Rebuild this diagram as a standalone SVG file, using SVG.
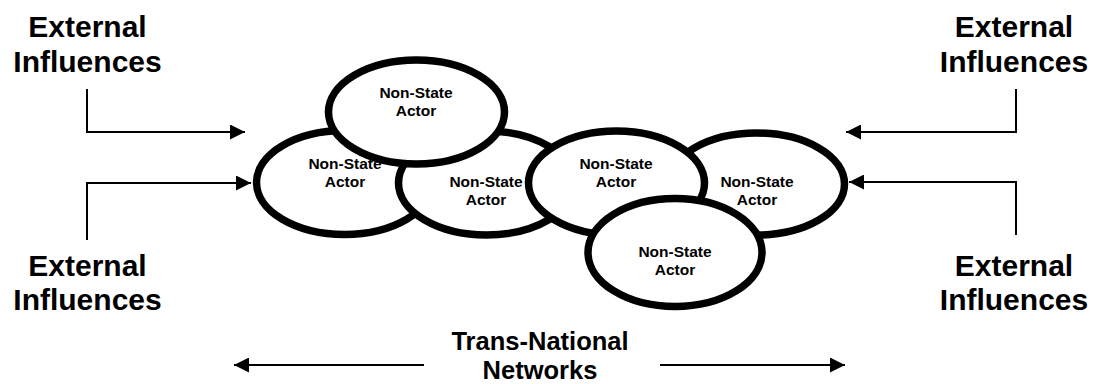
<svg xmlns="http://www.w3.org/2000/svg" width="1096" height="384" viewBox="0 0 1096 384">
  <defs>
    <marker id="ah" markerUnits="userSpaceOnUse" markerWidth="15" markerHeight="15" refX="15" refY="7.5" orient="auto">
      <path d="M0,0 L15,7.5 L0,15 Z" fill="#000"/>
    </marker>
    <style>
      .actor ellipse { fill: #fff; stroke: #000; stroke-width: 7.5; }
      .actor text { font-family: "Liberation Sans", Arial, sans-serif; font-weight: bold; font-size: 15.5px; text-anchor: middle; fill: #000; }
      .label { font-family: "Liberation Sans", Arial, sans-serif; font-weight: bold; font-size: 30px; text-anchor: middle; fill: #000; }
      .label.net { font-size: 25.5px; }
      .conn path { fill: none; stroke: #000; stroke-width: 2; marker-end: url(#ah); }
    </style>
  </defs>

  <rect width="1096" height="384" fill="#fff"/>

  <!-- side and bottom labels -->
  <g id="ext-top-left">
    <text class="label" x="87.5" y="37">External</text>
    <text class="label" x="87.5" y="72">Influences</text>
  </g>
  <g id="ext-bottom-left">
    <text class="label" x="87.5" y="276">External</text>
    <text class="label" x="87.5" y="310">Influences</text>
  </g>
  <g id="ext-top-right">
    <text class="label" x="1014" y="37">External</text>
    <text class="label" x="1014" y="72">Influences</text>
  </g>
  <g id="ext-bottom-right">
    <text class="label" x="1014" y="276">External</text>
    <text class="label" x="1014" y="310">Influences</text>
  </g>
  <g id="networks">
    <text class="label net" x="540" y="350">Trans-National</text>
    <text class="label net" x="540" y="378.5">Networks</text>
  </g>

  <!-- actor cluster; order sets the overlaps -->
  <g id="actor-left" class="actor">
    <ellipse cx="344.5" cy="182.5" rx="88" ry="52"/>
    <text x="345" y="168.5">Non-State</text>
    <text x="345" y="186.5">Actor</text>
  </g>
  <g id="actor-middle" class="actor">
    <ellipse cx="486.5" cy="183" rx="88" ry="52"/>
    <text x="486" y="186.5">Non-State</text>
    <text x="486" y="205">Actor</text>
  </g>
  <g id="actor-top" class="actor">
    <ellipse cx="416.5" cy="112" rx="88" ry="52"/>
    <text x="416" y="97.5">Non-State</text>
    <text x="416" y="116">Actor</text>
  </g>
  <g id="actor-right" class="actor">
    <ellipse cx="756.5" cy="184" rx="88" ry="51"/>
    <text x="757" y="186.5">Non-State</text>
    <text x="757" y="205">Actor</text>
  </g>
  <g id="actor-center-right" class="actor">
    <ellipse cx="616.5" cy="183" rx="88" ry="52"/>
    <text x="616" y="168.5">Non-State</text>
    <text x="616" y="186.5">Actor</text>
  </g>
  <g id="actor-bottom" class="actor">
    <ellipse cx="675" cy="252.5" rx="87" ry="54"/>
    <text x="675" y="256.5">Non-State</text>
    <text x="675" y="275">Actor</text>
  </g>

  <!-- connectors -->
  <g id="connectors" class="conn">
    <path d="M87,89 V132 H245"/>
    <path d="M87,240 V183 H251"/>
    <path d="M1016,89 V132 H846"/>
    <path d="M1016,235 V182 H849"/>
    <path d="M424,365 H234"/>
    <path d="M660,365 H845"/>
  </g>
</svg>
